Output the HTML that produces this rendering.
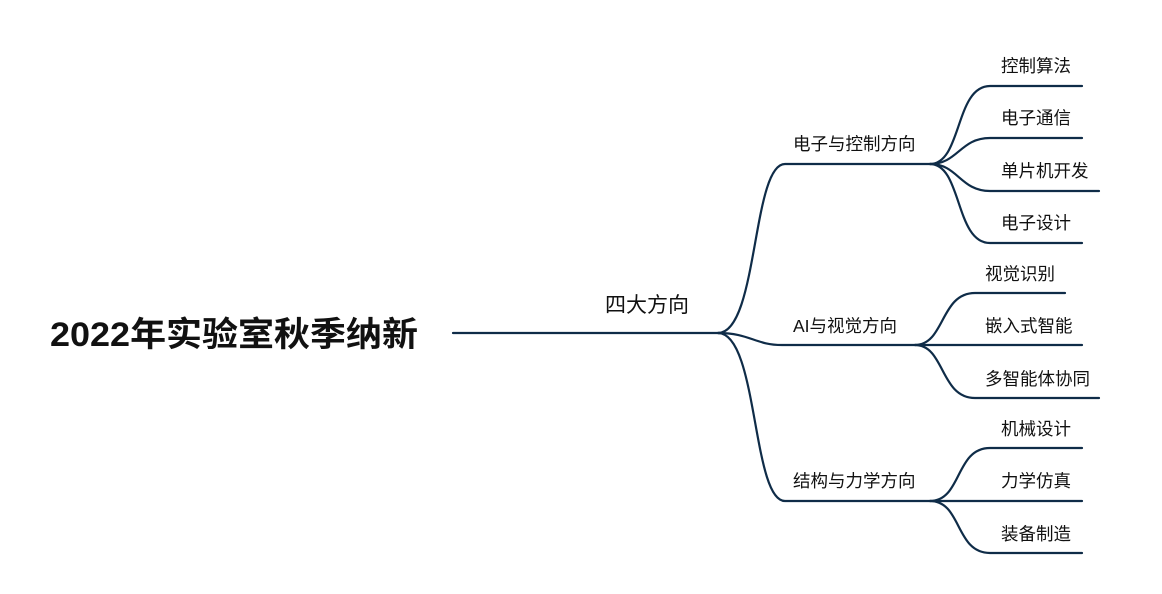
<!DOCTYPE html>
<html><head><meta charset="utf-8">
<style>
html,body{margin:0;padding:0;background:#fff;}
svg{display:block;}
text{font-family:"Liberation Sans","Noto Sans CJK SC",sans-serif;fill:#111;}
</style></head>
<body>
<svg width="1162" height="594" viewBox="0 0 1162 594" xmlns="http://www.w3.org/2000/svg">
<g fill="none" stroke="#0f2c48" stroke-width="2.2" stroke-linecap="round">
<path d="M453 333 H720"/>
<path d="M718 333 C758 333 752 164 785 164 H930"/>
<path d="M718 333 C750 333 755 345 782 345 H915"/>
<path d="M718 333 C758 333 752 501 785 501 H930"/>
<path d="M930 164 C962 164 955 86 990 86 H1082"/>
<path d="M930 164 C958 164 960 138 990 138 H1082"/>
<path d="M930 164 C958 164 960 191 990 191 H1099"/>
<path d="M930 164 C962 164 955 243 990 243 H1082"/>
<path d="M915 345 C945 345 940 293 975 293 H1065"/>
<path d="M915 345 H1082"/>
<path d="M915 345 C945 345 940 398 975 398 H1099"/>
<path d="M930 501 C962 501 955 448 990 448 H1082"/>
<path d="M930 501 H1082"/>
<path d="M930 501 C962 501 955 553 990 553 H1082"/>
</g>
<text x="50" y="346" font-size="34" font-weight="bold" textLength="368" lengthAdjust="spacingAndGlyphs">2022年实验室秋季纳新</text>
<text x="605" y="312" font-size="21">四大方向</text>
<g font-size="17.5">
<text x="793" y="150">电子与控制方向</text>
<text x="793" y="332">AI与视觉方向</text>
<text x="793" y="487">结构与力学方向</text>
<text x="1001" y="72">控制算法</text>
<text x="1001" y="124">电子通信</text>
<text x="1001" y="177">单片机开发</text>
<text x="1001" y="229">电子设计</text>
<text x="985" y="280">视觉识别</text>
<text x="985" y="332">嵌入式智能</text>
<text x="985" y="385">多智能体协同</text>
<text x="1001" y="435">机械设计</text>
<text x="1001" y="487">力学仿真</text>
<text x="1001" y="540">装备制造</text>
</g>
</svg>
</body></html>
